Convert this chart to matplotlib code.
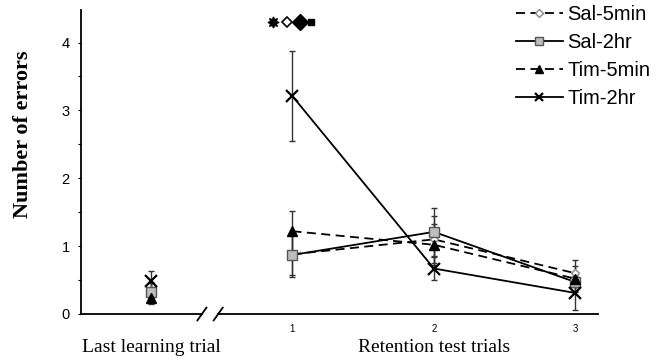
import matplotlib
matplotlib.use("Agg")
import matplotlib.pyplot as plt
from matplotlib.lines import Line2D
import matplotlib.transforms as mtransforms

# ---- data ----
groups = ["Sal-5min", "Sal-2hr", "Tim-5min", "Tim-2hr"]
last_mean = [0.35, 0.33, 0.23, 0.48]
last_sem = [0.12, 0.12, 0.08, 0.16]
retention_trials = [1, 2, 3]
retention_labels = ["1", "2", "3"]
sal5_mean = [0.88, 1.10, 0.60]
sal5_sem = [0.30, 0.35, 0.20]
sal2_mean = [0.87, 1.21, 0.47]
sal2_sem = [0.32, 0.35, 0.15]
tim5_mean = [1.22, 1.02, 0.52]
tim5_sem = [0.30, 0.30, 0.18]
tim2_mean = [3.21, 0.67, 0.31]
tim2_sem = [0.66, 0.17, 0.25]
yticks = [0, 1, 2, 3, 4]
sig_y = 4.3

means = [sal5_mean, sal2_mean, tim5_mean, tim2_mean]
sems = [sal5_sem, sal2_sem, tim5_sem, tim2_sem]

styles = [
    dict(ls=(0, (5, 3)), marker="D", ms=4.5, mfc="white", mec="#888888", mew=1.0),
    dict(ls="-", marker="s", ms=7, mfc="#bdbdbd", mec="#555555", mew=1.0),
    dict(ls=(0, (5, 3)), marker="^", ms=7, mfc="black", mec="black", mew=1.0),
    dict(ls="-", marker="x", ms=8, mfc="black", mec="black", mew=1.6),
]

fig = plt.figure(figsize=(6.67, 3.62), dpi=100)
ax = fig.add_axes([0.1214, 0.1326, 0.7752, 0.8398])

last_x = 0
handles = []
for i, g in enumerate(groups):
    st = styles[i]
    # last learning trial (not connected)
    ax.errorbar([last_x], [last_mean[i]], yerr=[last_sem[i]], fmt="none",
                ecolor="#333333", elinewidth=1.0, capsize=2.5, capthick=1.0, zorder=2)
    ax.plot([last_x], [last_mean[i]], ls="none", marker=st["marker"], ms=st["ms"],
            mfc=st["mfc"], mec=st["mec"], mew=st["mew"], zorder=3)
    # retention trials
    ax.errorbar(retention_trials, means[i], yerr=sems[i], fmt="none",
                ecolor="#333333", elinewidth=1.0, capsize=2.5, capthick=1.0, zorder=2)
    ax.plot(retention_trials, means[i], color="black", lw=1.3, ls=st["ls"],
            marker=st["marker"], ms=st["ms"], mfc=st["mfc"], mec=st["mec"],
            mew=st["mew"], zorder=3)
    handles.append(Line2D([], [], color="black", lw=1.3, ls=st["ls"], marker=st["marker"],
                          ms=st["ms"] * 0.8, mfc=st["mfc"], mec=st["mec"], mew=st["mew"]))

# significance markers above trial 1
sig_x = [0.863, 0.962, 1.055, 1.132]
ax.plot([sig_x[0]], [sig_y], marker=(8, 1, 0), ms=8, color="black", ls="none", clip_on=False)
ax.plot([sig_x[1]], [sig_y], marker="D", ms=5, mfc="white", mec="black", mew=1.2, ls="none", clip_on=False)
ax.plot([sig_x[2]], [sig_y], marker="D", ms=8, color="black", ls="none", clip_on=False)
ax.plot([sig_x[3]], [sig_y], marker="s", ms=4, color="black", ls="none", clip_on=False)

ax.set_xlim(-0.495, 3.16)
ax.set_ylim(0, 4.48)

for s in ["top", "right", "bottom"]:
    ax.spines[s].set_visible(False)
ax.spines["left"].set_linewidth(1.3)

# broken bottom axis
trans = mtransforms.blended_transform_factory(ax.transData, ax.transAxes)
b1, b2 = 0.36, 0.475
ax.plot([-0.495, b1], [0, 0], color="black", lw=1.3, transform=trans, clip_on=False)
ax.plot([b2, 3.16], [0, 0], color="black", lw=1.3, transform=trans, clip_on=False)
for bx in (b1, b2):
    ax.plot([bx - 0.032, bx + 0.032], [-0.021, 0.021], color="black", lw=1.3,
            transform=trans, clip_on=False)

ax.set_yticks(yticks)
ax.set_yticks([0.5, 1.5, 2.5, 3.5], minor=True)
ax.tick_params(axis="y", which="major", length=2, width=0.8, labelsize=10.5, pad=6)
ax.tick_params(axis="y", which="minor", length=2, width=0.8)
for lab in ax.get_yticklabels():
    lab.set_family(["Liberation Sans", "DejaVu Sans"])

ax.set_xticks(retention_trials)
ax.set_xticklabels(retention_labels, fontsize=7, family=["Liberation Sans", "DejaVu Sans"])
ax.tick_params(axis="x", length=0, pad=7)

ax.text(last_x, -0.11, "Last learning trial", transform=trans, ha="center", va="center",
        fontsize=14, family=["Liberation Serif", "DejaVu Serif"])
ax.text(2, -0.11, "Retention test trials", transform=trans, ha="center", va="center",
        fontsize=14, family=["Liberation Serif", "DejaVu Serif"])
fig.text(0.035, 0.63, "Number of errors", rotation=90, ha="center", va="center",
         fontsize=16, fontweight="bold", family=["Liberation Serif", "DejaVu Serif"])

leg = fig.legend(handles, groups, loc="upper left", bbox_to_anchor=(0.774, 0.986),
                 frameon=False, handlelength=2.3, handletextpad=0.25,
                 labelspacing=0.45, borderaxespad=0, borderpad=0,
                 prop={"family": ["Liberation Sans", "DejaVu Sans"], "size": 14.5})

fig.savefig("out.png", dpi=100, facecolor="white")
